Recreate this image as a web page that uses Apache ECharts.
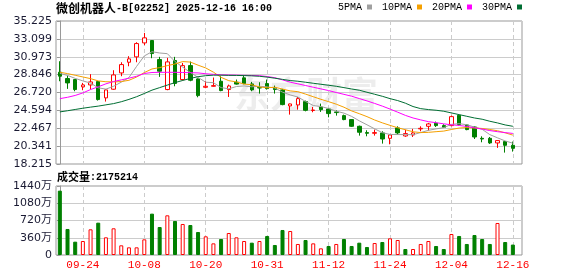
<!DOCTYPE html>
<html><head><meta charset="utf-8">
<script src="https://cdn.jsdelivr.net/npm/echarts@6/dist/echarts.min.js"></script>
<style>html,body{margin:0;padding:0;background:#fff}#c{width:578px;height:276px}</style>
</head><body><div id="c"></div>
<script>
const dates = ['09-19','09-22','09-23','09-24','09-25','09-26','09-29','09-30',
'10-02','10-03','10-06','10-08','10-09','10-10','10-13','10-14','10-15','10-16','10-17','10-20','10-21','10-22','10-23','10-24','10-27','10-28','10-30','10-31',
'11-03','11-04','11-05','11-06','11-07','11-10','11-11','11-12','11-13','11-14','11-17','11-18','11-19','11-20','11-21','11-24','11-25','11-26','11-27','11-28',
'12-01','12-02','12-03','12-04','12-05','12-08','12-09','12-10','12-11','12-12','12-15','12-16'];
const opens = [29.13,28.38,28.26,27.39,27.62,28.02,26.08,27.11,29.05,30.32,
30.96,32.62,32.90,30.64,27.07,30.52,28.26,29.92,28.34,27.34,
27.46,28.06,27.07,27.94,28.46,27.74,27.30,27.78,27.26,27.03,
25.12,25.24,25.64,24.58,25.00,24.76,24.41,23.97,23.50,22.70,
21.95,21.87,21.91,21.27,22.51,21.55,21.67,22.39,22.70,23.06,
22.78,22.78,24.01,22.86,22.62,21.27,21.27,20.72,20.88,20.44];
const closes = [28.66,27.86,27.07,27.62,27.98,25.88,27.03,28.81,30.04,30.72,
32.54,33.22,31.35,29.25,30.36,27.80,29.92,28.18,26.35,27.46,
27.54,26.95,27.50,27.72,27.78,27.03,27.26,27.18,27.07,25.28,
25.36,25.99,24.60,24.64,24.68,24.21,24.33,23.50,22.70,21.99,
21.87,21.95,21.19,21.67,21.91,21.83,21.91,22.46,22.98,22.78,
22.58,23.85,22.90,22.31,21.43,21.19,20.72,21.00,20.44,20.08];
const lows = [28.06,27.15,26.87,26.99,27.07,25.76,25.64,27.05,28.66,29.84,
30.32,32.35,30.80,28.58,26.99,27.46,28.14,28.06,26.15,27.23,
27.42,26.87,26.19,27.66,27.70,26.87,26.59,27.07,26.59,25.20,
24.09,24.68,24.48,24.37,24.41,23.77,23.97,23.42,22.62,21.59,
21.51,21.59,20.64,20.56,21.71,21.45,21.43,22.11,22.19,22.62,
22.54,22.70,22.78,22.23,21.19,20.80,20.60,20.13,19.57,19.69];
const highs = [30.44,28.73,28.30,27.86,28.90,28.10,27.11,29.37,30.32,31.04,
32.70,33.81,32.95,30.96,30.84,30.96,30.24,30.40,28.40,28.06,
28.50,28.66,27.66,28.26,28.73,27.98,27.94,28.26,27.54,27.15,
25.40,26.19,25.76,25.00,25.40,24.88,24.60,24.09,23.55,22.78,
22.23,22.31,22.11,21.75,22.70,22.30,22.39,22.70,23.10,23.26,
22.94,23.97,24.09,22.90,22.70,21.51,21.43,21.03,20.90,20.88];
const volumes = [13430000,5430000,2780000,2920000,5360000,6750000,3690000,5570000,2020000,1600000,
1600000,3270000,8630000,5840000,8280000,7100000,6470000,6260000,4800000,3900000,
2430000,3340000,4590000,3690000,2920000,2570000,2920000,3970000,2090000,5220000,
5010000,2300000,3130000,2430000,1390000,1880000,2300000,3340000,1880000,2570000,
1670000,2500000,2710000,3480000,3130000,1250000,1250000,2300000,2920000,1880000,
1250000,4380000,3970000,2300000,4170000,3340000,2300000,6680000,2710000,2175214];
const ma5 = [29.00,28.75,28.40,28.10,27.84,27.28,27.12,27.46,27.95,28.50,
29.83,31.07,31.57,31.42,31.34,30.40,29.74,29.10,28.52,27.94,
27.89,27.30,27.16,27.43,27.50,27.40,27.47,27.39,27.26,26.76,
26.43,26.18,25.66,25.17,25.05,24.82,24.49,24.27,23.88,23.35,
22.88,22.40,21.94,21.73,21.72,21.71,21.70,21.96,22.22,22.39,
22.54,22.93,23.02,22.88,22.61,22.34,21.71,21.33,20.96,20.69];
const ma10 = [29.13,28.97,28.77,28.57,28.37,28.10,28.00,27.98,28.02,28.17,
28.56,29.09,29.52,29.68,29.92,30.11,30.40,30.34,29.97,29.64,
29.14,28.52,28.13,27.98,27.72,27.64,27.38,27.28,27.35,27.13,
26.91,26.82,26.53,26.22,25.91,25.63,25.33,24.97,24.53,24.20,
23.85,23.45,23.11,22.81,22.53,22.29,22.05,21.95,21.98,22.06,
22.13,22.32,22.49,22.55,22.50,22.44,22.32,22.17,21.92,21.65];
const ma20 = [25.99,26.15,26.37,26.67,27.07,27.40,27.75,28.03,28.22,28.42,
28.65,28.98,29.10,29.12,29.12,29.12,29.10,29.08,29.05,28.95,
28.88,28.82,28.80,28.78,28.76,28.74,28.72,28.62,28.48,28.22,
27.95,27.75,27.55,27.35,27.15,26.95,26.72,26.50,26.28,26.00,
25.72,25.42,25.10,24.75,24.38,24.00,23.69,23.46,23.25,23.13,
22.99,22.88,22.80,22.68,22.52,22.37,22.19,22.06,21.95,21.85];
const ma30 = [24.41,24.55,24.70,24.85,24.98,25.10,25.25,25.40,25.62,25.90,
26.22,26.60,27.00,27.30,27.60,27.90,28.15,28.40,28.60,28.72,
28.78,28.78,28.76,28.75,28.73,28.70,28.65,28.55,28.42,28.28,
28.14,28.06,27.94,27.82,27.70,27.58,27.46,27.30,27.14,26.99,
26.75,26.51,26.27,25.99,25.76,25.45,25.05,24.80,24.69,24.61,
24.49,24.29,24.09,23.89,23.69,23.54,23.30,23.10,22.86,22.70];
const priceTickLabels = ['18.215','20.341','22.467','24.594','26.720','28.846','30.973','33.099','35.225'];
const volTickLabels = ['0','360万','720万','1080万','1440万'];
const xTickLabels = ['09-24','10-08','10-20','10-31','11-12','11-24','12-04','12-16'];
const maNames = ['5PMA','10PMA','20PMA','30PMA'];

const UP = '#ff0000', DOWN = '#008000';
const maColors = ['#a0a0a0','#f5a000','#ff00ff','#006e33'];
const pMin = parseFloat(priceTickLabels[0]);
const pMax = parseFloat(priceTickLabels[priceTickLabels.length-1]);
const pInt = (pMax - pMin) / (priceTickLabels.length - 1);
const vMax = 14400000, vInt = vMax / (volTickLabels.length - 1);
const tickIdx = xTickLabels.map(d => dates.indexOf(d));
const xMin = -0.5, xMax = 60.19;
const mono = 'Liberation Mono';
const axisTxt = '#1a1a33';

const candleData = dates.map((d,i)=>[i, opens[i], closes[i], lows[i], highs[i]]);
const volData = dates.map((d,i)=>{
  const up = i === 0 ? closes[i] >= opens[i] : closes[i] > closes[i-1];
  return {value:[i, volumes[i]], itemStyle: up ? {color:'#fff', borderColor:UP, borderWidth:1} : {color:DOWN, borderColor:DOWN, borderWidth:1}};
});
const mas = [ma5, ma10, ma20, ma30];

const chart = echarts.init(document.getElementById('c'), null, {renderer:'canvas'});
const xCommon = {type:'value', min:xMin, max:xMax,
  axisLine:{show:false}, axisTick:{show:false, customValues: tickIdx},
  splitLine:{show:true, lineStyle:{color:'#cccccc', width:1, type:[4,3]}}};
chart.setOption({
  animation:false,
  backgroundColor:'#fff',
  title:[
    {left:56, top:1, padding:0, text:'{c|微创机器人}{m|-B[02252] 2025-12-16 16:00}',
     textStyle:{rich:{c:{fontFamily:'Noto Sans CJK SC', fontSize:12, color:'#000', lineHeight:14},
                      m:{fontFamily:mono, fontSize:10, color:'#000', lineHeight:14}}}},
    {left:57, top:170, padding:0, text:'{c|成交量}{m|:' + volumes[volumes.length-1] + '}',
     textStyle:{rich:{c:{fontFamily:'Noto Sans CJK SC', fontSize:11, color:'#000', lineHeight:14},
                      m:{fontFamily:mono, fontSize:10, color:'#000', lineHeight:14}}}}
  ],
  legend:{left:338, top:2, padding:0, align:'right', itemWidth:5, itemHeight:5, itemGap:10, icon:'rect',
    textStyle:{fontFamily:mono, fontSize:10, color:'#000'}, data:maNames, selectedMode:false},
  graphic:[{type:'text', left:234, top:76, z:-1, silent:true,
    style:{text:'东方财富', font:'bold 36px "Noto Sans CJK SC"', fill:'rgba(0,0,0,0.07)'}}],
  grid:[
    {left:56, right:56, top:21, height:143, show:true, borderColor:'#999', borderWidth:1, backgroundColor:'transparent', outerBoundsMode:'none'},
    {left:56, right:56, top:186, height:69, show:true, borderColor:'#999', borderWidth:1, backgroundColor:'transparent', outerBoundsMode:'none'}
  ],
  xAxis:[
    Object.assign({gridIndex:0, axisLabel:{show:false}}, xCommon),
    Object.assign({gridIndex:1, axisLabel:{show:true, customValues: tickIdx, color:UP, fontFamily:mono, fontSize:11, margin:5,
      formatter: v => dates[Math.round(v)] || ''}}, xCommon)
  ],
  yAxis:[
    {type:'value', gridIndex:0, min:pMin, max:pMax, interval:pInt,
     axisLine:{show:true, lineStyle:{color:'#999'}}, axisTick:{show:true, length:3, lineStyle:{color:'#999'}},
     axisLabel:{color:axisTxt, fontFamily:'DejaVu Sans', fontSize:11, margin:4,
       formatter: v => priceTickLabels[Math.round((v - pMin)/pInt)] || ''},
     splitLine:{show:true, lineStyle:{color:'#cccccc', width:1}}},
    {type:'value', gridIndex:1, min:0, max:vMax, interval:vInt,
     axisLine:{show:true, lineStyle:{color:'#999'}}, axisTick:{show:true, length:3, lineStyle:{color:'#999'}},
     axisLabel:{color:axisTxt, fontFamily:'DejaVu Sans, Noto Sans CJK SC', fontSize:11, margin:4,
       formatter: v => volTickLabels[Math.round(v / vInt)] || ''},
     splitLine:{show:true, lineStyle:{color:'#cccccc', width:1}}}
  ],
  series:[
    {type:'candlestick', name:'K', xAxisIndex:0, yAxisIndex:0, data:candleData, barWidth:4, silent:true, z:2,
     itemStyle:{color:'#ffffff', color0:DOWN, borderColor:UP, borderColor0:DOWN, borderWidth:1}},
    ...mas.map((m,k)=>({type:'line', name:maNames[k], xAxisIndex:0, yAxisIndex:0, z:3,
      data: m.map((v,i)=>[i, v]), symbol:'none', showSymbol:false, silent:true,
      itemStyle:{color:maColors[k]}, lineStyle:{color:maColors[k], width:1}})),
    {type:'bar', name:'VOL', xAxisIndex:1, yAxisIndex:1, data:volData, barWidth:4, silent:true}
  ]
});
</script></body></html>
